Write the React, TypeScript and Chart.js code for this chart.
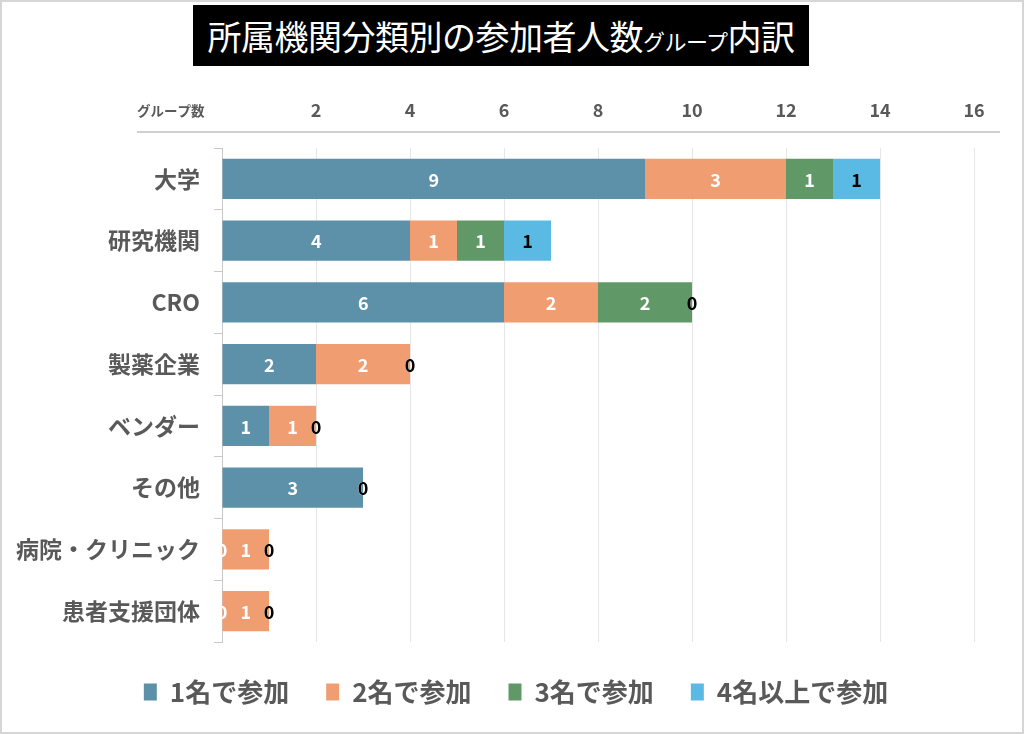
import { useEffect, useRef } from "react"
import { Chart, registerables } from "chart.js"

Chart.register(...registerables)

const FONT = '"Noto Sans CJK JP", "Noto Sans", sans-serif'

const categories = ["大学", "研究機関", "CRO", "製薬企業", "ベンダー", "その他", "病院・クリニック", "患者支援団体"]
const seriesNames = ["1名で参加", "2名で参加", "3名で参加", "4名以上で参加"]
const oneMember = [9, 4, 6, 2, 1, 3, 0, 0]
const twoMembers = [3, 1, 2, 2, 1, 0, 1, 1]
const threeMembers = [1, 1, 2, 0, 0, 0, 0, 0]
const fourPlus = [1, 1, 0, 0, 0, 0, 0, 0]
const colors = ["rgba(84,138,164,0.95)", "rgba(240,152,106,0.95)", "rgba(88,146,96,0.95)", "rgba(82,182,226,0.95)"]
const labelColors = ["#ffffff", "#ffffff", "#ffffff", "#000000"]

// draws the value in the middle of every segment
const valueLabels = {
  id: "valueLabels",
  afterDatasetsDraw(chart: Chart) {
    const ctx = chart.ctx
    ctx.save()
    ctx.font = `bold 18px ${FONT}`
    ctx.textAlign = "center"
    ctx.textBaseline = "middle"
    chart.data.datasets.forEach((ds, i) => {
      const meta = chart.getDatasetMeta(i)
      ctx.fillStyle = labelColors[i]
      meta.data.forEach((bar: any, j) => {
        const x = (bar.x + bar.base) / 2
        ctx.fillText(String(ds.data[j]), x, bar.y + 1)
      })
    })
    ctx.restore()
  },
}

// axis caption and the line under the top ticks
const topAxisDecor = {
  id: "topAxisDecor",
  afterLayout(chart: any) {
    // centre the legend under the plot rather than the whole canvas
    if (chart.legend) chart.legend.left += 58
  },
  afterDraw(chart: Chart) {
    const { ctx, chartArea } = chart
    ctx.save()
    ctx.strokeStyle = "#bfbfbf"
    ctx.lineWidth = 1.5
    ctx.beginPath()
    ctx.moveTo(chartArea.left - 85, chartArea.top - 16)
    ctx.lineTo(chartArea.right + 26, chartArea.top - 16)
    ctx.stroke()
    ctx.fillStyle = "#595959"
    ctx.font = `600 13.5px ${FONT}`
    ctx.textAlign = "left"
    ctx.textBaseline = "middle"
    ctx.fillText("グループ数", chartArea.left - 85, chartArea.top - 37)
    ctx.restore()
  },
}

export default function App() {
  const chartRef = useRef<HTMLCanvasElement>(null)
  const chartInstance = useRef<Chart | null>(null)

  useEffect(() => {
    document.body.style.margin = "0"
    if (!chartRef.current) return
    if (chartInstance.current) chartInstance.current.destroy()
    const ctx = chartRef.current.getContext("2d")
    if (!ctx) return

    const values = [oneMember, twoMembers, threeMembers, fourPlus]

    chartInstance.current = new Chart(ctx, {
      type: "bar",
      data: {
        labels: categories,
        datasets: values.map((d, i) => ({
          label: seriesNames[i],
          data: d,
          backgroundColor: colors[i],
          borderWidth: 0,
          categoryPercentage: 1,
          barPercentage: 0.65,
        })),
      },
      options: {
        indexAxis: "y",
        responsive: true,
        maintainAspectRatio: false,
        animation: false,
        layout: { padding: { top: 89, right: 50, left: 0, bottom: 19 } },
        scales: {
          x: {
            position: "top",
            stacked: true,
            min: 0,
            max: 16,
            ticks: {
              stepSize: 2,
              padding: 27,
              color: "#595959",
              font: { family: FONT, size: 18, weight: "bold" },
              callback: (v: any) => (v === 0 ? "" : v),
            },
            grid: { color: "#e6e6e6", drawTicks: false },
            border: { display: false },
            afterFit: (scale: any) => {
              scale.height = 59
            },
          },
          y: {
            stacked: true,
            ticks: {
              padding: 14,
              color: "#595959",
              font: { family: FONT, size: 23, weight: "bold" },
            },
            grid: { offset: true, drawOnChartArea: false, drawTicks: true, tickLength: 8, color: "#c8c8c8" },
            border: { color: "#c8c8c8" },
            afterFit: (scale: any) => {
              scale.width = 222
            },
          },
        },
        plugins: {
          legend: {
            position: "bottom",
            labels: {
              boxWidth: 13,
              boxHeight: 17,
              padding: 37,
              color: "#595959",
              font: { family: FONT, size: 26, weight: "bold" },
            },
          },
          tooltip: { enabled: false },
        },
      },
      plugins: [valueLabels, topAxisDecor],
    })

    return () => {
      if (chartInstance.current) chartInstance.current.destroy()
    }
  }, [])

  return (
    <div
      style={{
        position: "relative",
        width: 1024,
        height: 734,
        boxSizing: "border-box",
        border: "2px solid #d6d6d6",
        background: "#fff",
        overflow: "hidden",
      }}
    >
      <div style={{ position: "absolute", left: -2, top: -2, width: 1024, height: 734 }}>
        <canvas ref={chartRef} />
      </div>
      <div
        style={{
          position: "absolute",
          left: 191,
          top: 3,
          width: 616,
          height: 61,
          background: "#000",
          color: "#fff",
          fontFamily: FONT,
          fontSize: 34,
          lineHeight: "61px",
          textAlign: "center",
          whiteSpace: "nowrap",
          letterSpacing: -0.5,
        }}
      >
        所属機関分類別の参加者人数<span style={{ fontSize: 22 }}>グループ</span>内訳
      </div>
    </div>
  )
}
